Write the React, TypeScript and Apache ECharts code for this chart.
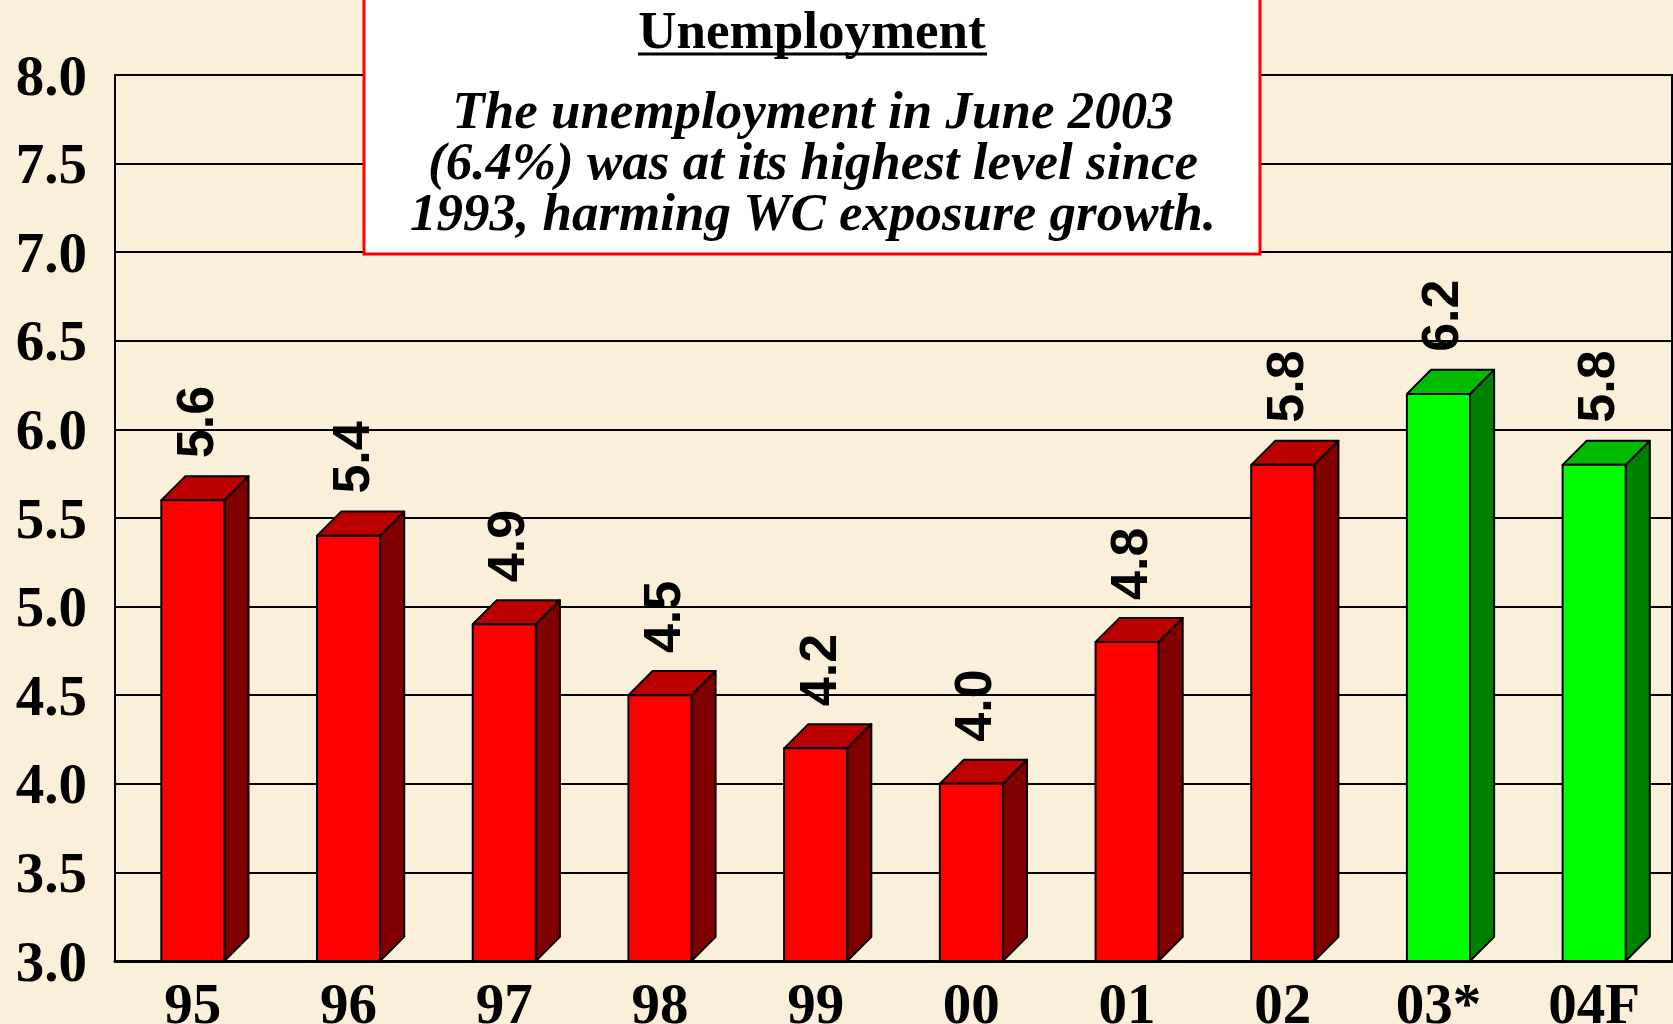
import React, { useEffect, useRef } from "react";
import * as echarts from "echarts";

const categories = ["95", "96", "97", "98", "99", "00", "01", "02", "03*", "04F"];
const values = [5.6, 5.4, 4.9, 4.5, 4.2, 4.0, 4.8, 5.8, 6.2, 5.8];
const isProjection = [false, false, false, false, false, false, false, false, true, true];
const yTicks = { min: 3, max: 8, interval: 0.5 };
const titleText = "Unemployment";
const noteLines = [
  "The unemployment in June 2003",
  "(6.4%) was at its highest level since",
  "1993, harming WC exposure growth.",
];

const SERIF = '"Liberation Serif", "Times New Roman", serif';
const SANS = '"Liberation Sans", Arial, sans-serif';

const palettes = {
  actual: { front: "#FF0000", top: "#BB0000", side: "#800000" },
  projection: { front: "#00FF00", top: "#00BB00", side: "#008000" },
};

export default function App() {
  const ref = useRef<HTMLDivElement>(null);
  useEffect(() => {
    document.body.style.margin = "0";
    document.body.style.overflow = "hidden";
    const chart = echarts.init(ref.current!, null, { renderer: "svg" });
    const data = values.map((v, i) => [i, v, isProjection[i] ? 1 : 0]);
    const option: any = {
      animation: false,
      backgroundColor: "#FAF0D9",
      grid: {
        left: 115,
        right: 1,
        top: 75,
        bottom: 63,
        containLabel: false,
        outerBoundsMode: "none",
        show: true,
        borderColor: "#000",
        borderWidth: 2,
        backgroundColor: "transparent",
      },
      xAxis: {
        type: "category",
        data: categories,
        boundaryGap: true,
        axisLine: { show: true, lineStyle: { color: "#000", width: 3 } },
        axisTick: { show: false },
        axisLabel: {
          color: "#000",
          fontFamily: SERIF,
          fontWeight: "bold",
          fontSize: 57,
          margin: 14,
        },
      },
      yAxis: {
        type: "value",
        min: yTicks.min,
        max: yTicks.max,
        interval: yTicks.interval,
        axisLine: { show: true, lineStyle: { color: "#000", width: 2 } },
        axisTick: { show: false },
        splitLine: { show: true, lineStyle: { color: "#000", width: 2 } },
        axisLabel: {
          color: "#000",
          fontFamily: SERIF,
          fontWeight: "bold",
          fontSize: 57,
          margin: 28,
          formatter: (v: number) => v.toFixed(1),
        },
      },
      series: [
        {
          type: "custom",
          data,
          clip: false,
          encode: { x: 0, y: 1 },
          renderItem: (params: any, api: any) => {
            const idx = api.value(0);
            const v = api.value(1);
            const pal = api.value(2) ? palettes.projection : palettes.actual;
            const top = api.coord([idx, v]);
            const base = api.coord([idx, yTicks.min]);
            const band = api.size([1, 0])[0];
            const w = band * 0.405;
            const d = band * 0.155;
            const x0 = top[0] - w / 2;
            const x1 = top[0] + w / 2;
            const ty = top[1];
            const by = base[1];
            const stroke = { stroke: "#000", lineWidth: 2, lineJoin: "round" };
            return {
              type: "group",
              children: [
                {
                  type: "polygon",
                  shape: { points: [[x1, ty], [x1 + d, ty - d], [x1 + d, by - d], [x1, by]] },
                  style: { fill: pal.side, ...stroke },
                },
                {
                  type: "polygon",
                  shape: { points: [[x0, ty], [x0 + d, ty - d], [x1 + d, ty - d], [x1, ty]] },
                  style: { fill: pal.top, ...stroke },
                },
                {
                  type: "rect",
                  shape: { x: x0, y: ty, width: w, height: by - ty },
                  style: { fill: pal.front, ...stroke },
                },
                {
                  type: "text",
                  x: top[0] + 2,
                  y: ty - d - 18,
                  rotation: Math.PI / 2,
                  style: {
                    text: v.toFixed(1),
                    font: `bold 52px ${SANS}`,
                    fill: "#000",
                    textAlign: "left",
                    textVerticalAlign: "middle",
                  },
                },
              ],
            };
          },
        },
      ],
      graphic: [
        {
          type: "rect",
          z: 100,
          shape: { x: 364, y: -5, width: 896, height: 259 },
          style: { fill: "#FFFFFF", stroke: "#FF0000", lineWidth: 3 },
        },
        {
          type: "text",
          z: 101,
          x: 812,
          y: 30,
          style: {
            text: titleText,
            font: `bold 53px ${SERIF}`,
            fill: "#000",
            textAlign: "center",
            textVerticalAlign: "middle",
          },
        },
        {
          type: "line",
          z: 101,
          shape: { x1: 638, y1: 54, x2: 987, y2: 54 },
          style: { stroke: "#000", lineWidth: 3 },
        },
        {
          type: "text",
          z: 101,
          x: 813,
          y: 161,
          style: {
            text: noteLines.join("\n"),
            font: `italic bold 53px ${SERIF}`,
            lineHeight: 51,
            fill: "#000",
            textAlign: "center",
            textVerticalAlign: "middle",
          },
        },
      ],
    };
    chart.setOption(option);
    return () => chart.dispose();
  }, []);
  return <div ref={ref} style={{ width: 1673, height: 1024 }} />;
}
